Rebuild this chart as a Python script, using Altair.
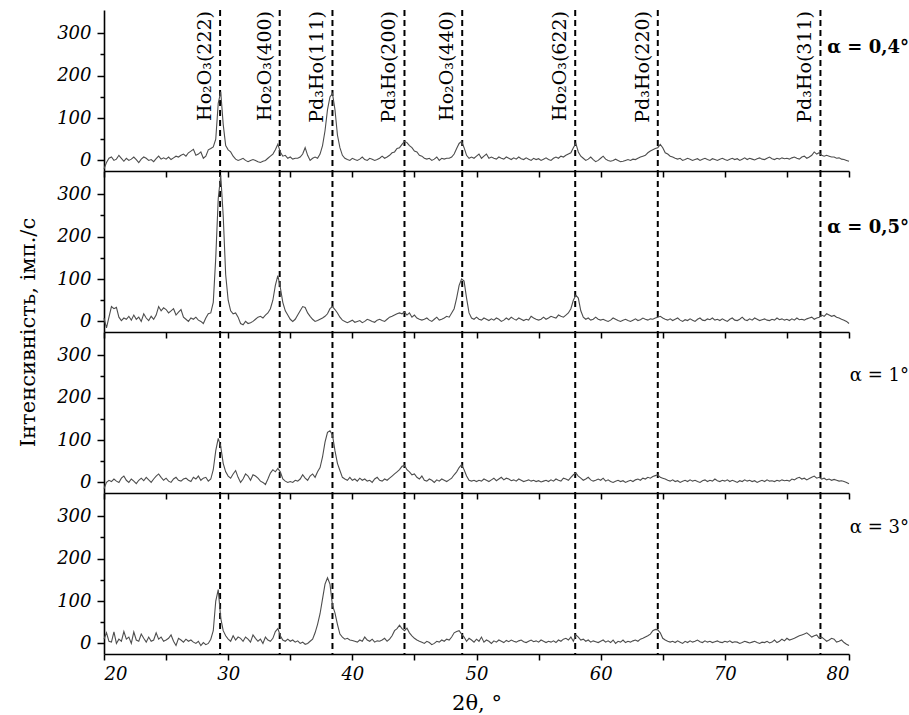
import altair as alt
import numpy as np
import pandas as pd

# ---- data -------------------------------------------------------------
two_theta = np.round(20.0 + 0.2 * np.arange(301), 1)

I_04 = (
    [-20, -5, 5, 8, 0, 3, 12, 5, -2, 5, 0, 3, 8, 2, -5, 3, 8, 5, 0, 2, -3, 4, 10, 3, 6]
    + [3, 8, 2, 6, 10, 8, 12, 15, 10, 18, 22, 26, 12, 15, 20, 5, 10, 25, 28, 32, 50, 135, 162, 85, 35]
    + [25, 20, 10, 3, 0, 2, 5, 0, -3, 0, 2, 0, -3, -5, -2, 0, 5, 10, 15, 25, 38, 20, 10, 12, 5]
    + [8, 3, 5, 5, 8, 15, 30, 12, 0, 5, 8, 5, 15, 35, 70, 120, 150, 158, 120, 60, 30, 12, 5, 2, 0]
    + [5, 2, 0, 3, 8, 2, 0, 5, 3, 0, 2, 5, 10, 5, 8, 12, 18, 20, 28, 30, 38, 45, 42, 35, 30]
    + [22, 20, 12, 10, 5, 3, 5, 0, 3, 8, 0, 5, 3, 5, 5, 8, 15, 28, 40, 45, 30, 12, 5, 8, 5]
    + [10, 15, 5, 10, 15, 5, 8, 5, 3, 8, 5, 3, 8, 5, 2, 6, 3, 8, 4, 2, 6, 3, 0, 5, 2]
    + [4, 0, 3, 6, 2, 0, 5, 8, 5, 10, 8, 12, 15, 18, 30, 40, 20, 10, 5, 0, 3, 8, 2, -3, 0]
    + [5, 10, 3, 0, -2, 0, 3, 0, -3, -2, 0, 2, 0, 3, 2, 5, 8, 10, 12, 18, 22, 25, 28, 30, 38]
    + [30, 18, 15, 10, 8, 5, 3, 5, 0, 2, 5, 3, 0, 2, 4, 0, 3, 5, 2, 0, 4, 2, 0, 3, 5]
    + [2, 0, 3, 5, 2, 4, 0, 3, 6, 2, 5, 3, 1, 4, 6, 3, 2, 5, 8, 4, 2, 5, 3, 6, 4]
    + [5, 3, 6, 8, 5, 3, 8, 10, 5, 8, 12, 20, 15, 18, 12, 10, 12, 10, 8, 8, 5, 6, 3, 2, 0]
    + [-2]
)

I_05 = (
    [8, -15, 10, 35, 30, 33, 10, 2, 8, 5, 12, 3, 15, 5, 10, 0, 18, 8, 2, 12, 5, 15, 35, 25, 32]
    + [28, 20, 25, 30, 15, 22, 28, 10, 5, 0, 8, 5, 10, 3, 0, -5, 8, 18, 20, 45, 150, 290, 345, 250, 110]
    + [50, 25, 18, 20, 10, -5, -8, 0, -5, -3, 0, 5, 10, 12, 8, 15, 20, 30, 50, 85, 108, 80, 45, 25, 15]
    + [5, 0, 5, 15, 25, 35, 33, 20, 12, 5, 0, 2, 5, 8, 12, 18, 30, 35, 28, 20, 10, 3, 0, -3, 0]
    + [3, -2, 0, 2, -3, 0, 5, 3, 0, -2, 3, 5, 2, 0, 5, 10, 12, 15, 18, 20, 18, 22, 15, 20, 10]
    + [15, 8, 5, 3, 5, 8, 3, 0, 5, 10, 3, 5, 8, 12, 10, 20, 30, 55, 85, 100, 95, 55, 20, 8, 5]
    + [10, 5, 3, 8, 5, 2, 6, 3, 8, 5, 0, 3, 8, 4, 10, 6, 3, 8, 5, 2, 5, 3, 12, 8, 5]
    + [3, 5, 10, 5, 8, 12, 10, 8, 15, 12, 10, 15, 20, 30, 50, 62, 55, 25, 10, 5, 8, 3, 5, 10, 5]
    + [3, 5, 2, 0, 3, 8, 5, 2, 0, 3, 5, 2, 0, 3, 6, 2, 4, 8, 5, 3, 6, 5, 8, 10, 12]
    + [8, 5, 3, 6, 2, 5, 8, 3, 0, 4, 2, 6, 3, 0, 5, 8, 3, 2, 6, 4, 8, 3, 5, 2, 6]
    + [3, 0, 5, 8, 3, 2, 5, 10, 4, 2, 6, 3, 8, 5, 2, 4, 6, 3, 2, 5, 3, 8, 4, 6, 3]
    + [5, 2, 6, 3, 8, 4, 5, 3, 6, 8, 10, 5, 8, 10, 15, 12, 18, 15, 12, 14, 10, 8, 5, 3, 0]
    + [-5]
)

I_1 = (
    [-15, 0, 5, 2, 8, 3, 0, 10, 15, 5, 0, 8, 3, -3, 5, 10, 4, 12, 6, 0, 8, 15, 20, 12, 5]
    + [10, 3, 0, 8, 12, 5, 3, 8, 10, 5, 2, 12, 8, 15, 5, 10, 12, 3, 8, 30, 75, 104, 85, 45, 25]
    + [15, 10, 20, 28, 12, 0, 8, 20, 15, 5, 18, 15, 10, 3, 0, -5, 8, 22, 30, 25, 33, 25, 8, 3, 0]
    + [2, 0, 5, 3, 8, 18, 10, 5, 15, 20, 12, 25, 35, 60, 95, 118, 122, 112, 75, 45, 28, 12, 8, 5, 12]
    + [5, 8, 3, 10, 5, 8, 3, 5, 0, 8, 12, 5, 3, 8, 5, 10, 15, 20, 25, 30, 38, 40, 30, 25, 18]
    + [20, 12, 8, 15, 5, 3, 8, 5, 0, 6, 3, 8, 5, 2, 6, 10, 18, 25, 35, 42, 30, 15, 5, 3, 5]
    + [2, 5, 3, 8, 5, 2, 6, 10, 4, 8, 12, 6, 10, 8, 4, 6, 3, 8, 5, 2, 4, 6, 3, 5, 2]
    + [4, 1, 3, 5, 2, 6, 3, 8, 5, 3, 10, 8, 5, 12, 18, 22, 15, 10, 5, 8, 12, 6, 3, 5, 8]
    + [5, 10, 3, 6, 2, 0, 3, 5, 2, 4, 0, 3, 5, 2, 6, 8, 5, 10, 8, 12, 10, 14, 16, 18, 12]
    + [10, 8, 5, 3, 6, 2, 4, 0, 3, 5, 2, 6, 3, 5, 2, 0, 4, 6, 2, 5, 3, 8, 4, 2, 5]
    + [3, 6, 2, 5, 3, 0, 4, 2, 6, 3, 5, 2, 4, 0, 3, 5, 2, 6, 3, 4, 2, 5, 3, 6, 4]
    + [5, 3, 8, 6, 10, 12, 8, 10, 6, 9, 12, 15, 10, 12, 8, 10, 6, 8, 5, 7, 5, 3, 4, 2, 0]
    + [-3]
)

I_3 = (
    [10, 25, 5, 3, 27, 0, 10, 5, 28, 10, 15, 0, 27, 8, 5, 22, 12, 3, 15, 5, 8, 25, 10, 15, 5]
    + [8, 12, 20, 5, -5, 12, 8, 3, 10, 5, 8, 3, 0, 5, -5, 2, -3, 0, 10, 30, 100, 127, 60, 30, 18]
    + [10, 5, 18, 8, 15, 12, 5, 15, 10, 3, 20, 12, 5, 10, 0, 15, 8, 5, 12, 28, 35, 18, 8, 5, 10]
    + [5, 8, 3, 6, 0, 3, -2, 0, 5, 10, 25, 45, 70, 105, 140, 155, 140, 90, 72, 45, 22, 15, 10, 12, 8]
    + [7, 5, 3, 8, 5, 15, 8, 5, 10, 3, 6, 5, 8, 12, 5, 10, 18, 30, 35, 43, 35, 30, 36, 25, 18]
    + [12, 8, 5, 3, 0, 5, 2, -3, 0, 5, 3, 8, 5, 10, 8, 15, 25, 28, 30, 22, 15, 5, 12, 8, 3]
    + [10, 5, 15, 3, 8, 5, 0, 6, 3, 8, 5, 2, 7, 4, 8, 5, 3, 6, 8, 4, 2, 5, 8, 4, 6]
    + [3, 8, 5, 2, 5, 3, 6, 2, 8, 5, 10, 12, 8, 15, 5, 20, 15, 8, 10, 5, 8, 3, 6, 4, 2]
    + [5, 8, 3, 6, 2, 8, 0, 5, 3, 8, 2, 5, 3, 6, 8, 5, 10, 12, 15, 18, 22, 30, 33, 32, 25]
    + [12, 8, 5, 3, 5, 2, 6, 3, 0, 5, 2, 6, 3, 5, 8, 4, 2, 6, 3, 5, 2, 4, 6, 3, 2]
    + [5, 3, 6, 2, 4, 3, 0, 2, 5, 3, 1, 3, 5, 2, 0, 3, 2, 5, 1, 3, 8, 2, 5, 10, 6]
    + [12, 8, 10, 12, 15, 18, 20, 22, 25, 20, 15, 18, 20, 12, 15, 10, 5, 8, 12, 10, 3, 5, 8, 2, -2]
    + [-5]
)

SERIES = [I_04, I_05, I_1, I_3]
for s in SERIES:
    assert len(s) == 301, len(s)

ALPHA_LABELS = ["α = 0,4°", "α = 0,5°", "α = 1°", "α = 3°"]
PEAK_POS = [29.35, 34.15, 38.4, 44.2, 48.85, 57.95, 64.6, 77.7]
PEAK_LABELS = ["Ho₂O₃(222)", "Ho₂O₃(400)", "Pd₃Ho(111)", "Pd₃Ho(200)",
               "Ho₂O₃(440)", "Ho₂O₃(622)", "Pd₃Ho(220)", "Pd₃Ho(311)"]
X_TICKS = [20, 25, 30, 35, 40, 45, 50, 55, 60, 65, 70, 75, 80]
Y_TICKS = [0, 50, 100, 150, 200, 250, 300]

# ---- layout -----------------------------------------------------------
W, H = 745, 161
ALPHA_Y = [38, 57, 44, 35]
ALPHA_BOLD = ["bold", "bold", "normal", "normal"]
SERIF = "DejaVu Serif"

xscale = alt.Scale(domain=[20, 80], nice=False, zero=False)
yscale = alt.Scale(domain=[-25, 355], nice=False, zero=False)
peaks_df = pd.DataFrame({"pos": PEAK_POS, "label": PEAK_LABELS})

panels = []
for i, vals in enumerate(SERIES):
    last = i == len(SERIES) - 1
    df = pd.DataFrame({"x": two_theta, "y": vals})
    xaxis = alt.Axis(
        values=X_TICKS, labels=last, grid=False,
        labelExpr="datum.value % 10 === 0 ? datum.label : ''",
        tickSize=6, tickWidth=1.5, tickColor="black",
        domainWidth=1.6, domainColor="black",
        labelPadding=5, titlePadding=9,
    )
    yaxis_kw = dict(
        values=Y_TICKS, grid=False,
        labelExpr="datum.value % 100 === 0 ? datum.label : ''",
        tickSize={"condition": {"test": "datum.value % 100 === 0", "value": 7}, "value": 4},
        tickWidth=1.5, tickColor="black", domainWidth=1.6, domainColor="black",
        labelPadding=6, titlePadding=18,
    )
    if i == 1:
        yaxis_kw["titleY"] = H
    yaxis = alt.Axis(**yaxis_kw)

    line = alt.Chart(df).mark_line(color="#4d4d4d", strokeWidth=1.1).encode(
        x=alt.X("x:Q", scale=xscale, axis=xaxis, title="2θ, °" if last else None),
        y=alt.Y("y:Q", scale=yscale, axis=yaxis,
                title="Інтенсивність, імп./с" if i == 1 else None),
    )
    rules = alt.Chart(peaks_df).mark_rule(
        strokeDash=[6, 4], strokeWidth=2, color="black"
    ).encode(x=alt.X("pos:Q", scale=xscale))
    alpha = alt.Chart(pd.DataFrame({"t": [ALPHA_LABELS[i]]})).mark_text(
        align="right", baseline="middle", font=SERIF, fontSize=18,
        fontWeight=ALPHA_BOLD[i], color="black",
    ).encode(x=alt.value(W + 60), y=alt.value(ALPHA_Y[i]), text="t:N")
    layers = [rules, line, alpha]
    if i == 0:
        labels = alt.Chart(peaks_df).mark_text(
            angle=270, align="right", baseline="bottom", dy=-5,
            font=SERIF, fontSize=19, color="black",
        ).encode(x=alt.X("pos:Q", scale=xscale), y=alt.value(1), text="label:N")
        layers.append(labels)
    panels.append(alt.layer(*layers).properties(width=W, height=H))

chart = alt.vconcat(*panels, spacing=0, bounds="flush").properties(
    padding={"left": 17, "top": 9, "right": 0, "bottom": 0}
).configure_view(stroke=None).configure_axis(
    labelFont=SERIF, labelFontStyle="italic", labelFontSize=18, labelColor="black",
    titleFont=SERIF, titleFontSize=21, titleFontWeight="normal", titleColor="black",
)

chart.save("out.html", embed_options={"renderer": "svg", "actions": False})
